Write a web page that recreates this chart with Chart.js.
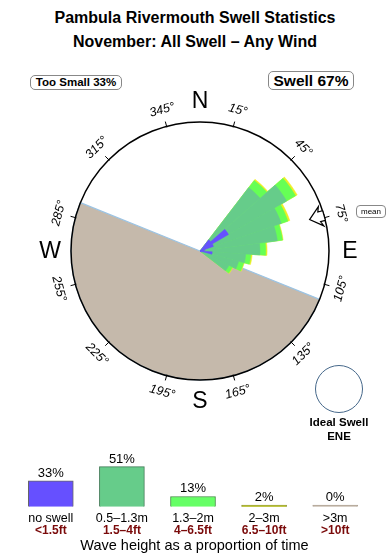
<!DOCTYPE html>
<html>
<head>
<meta charset="utf-8">
<script src="https://cdn.jsdelivr.net/npm/chart.js@4/dist/chart.umd.min.js"></script>
<style>
body { margin: 0; width: 390px; height: 560px; position: relative; background: #fff; overflow: hidden;
       font-family: "Liberation Sans", Arial, sans-serif; color: #000; }
canvas { position: absolute; left: 0; }
#rose { top: 0; }
#bars { top: 440px; }
.title { position: absolute; top: 6px; left: 0; width: 390px; text-align: center; font-weight: bold; font-size: 16px; line-height: 24px; }
.box { position: absolute; border: 1px solid #888; border-radius: 5px; text-align: center; white-space: nowrap; }
#small { left: 30px; top: 75px; width: 90px; height: 13px; font-size: 11.5px; font-weight: bold; line-height: 13px; }
#swell { left: 268px; top: 71px; width: 84px; height: 17px; font-size: 15.5px; font-weight: bold; line-height: 17px; }
#mean { left: 356px; top: 205px; width: 28px; height: 11px; font-size: 8px; line-height: 11px; border-radius: 4px; }
.ideal { position: absolute; left: 315px; top: 365px; width: 46px; height: 46px; border: 1px solid #46688a; border-radius: 50%; }
.idealtxt { position: absolute; left: 289px; top: 415px; width: 100px; text-align: center; font-weight: bold; font-size: 11.5px; line-height: 14px; }
</style>
</head>
<body>
<div class="title">Pambula Rivermouth Swell Statistics<br>November: All Swell – Any Wind</div>
<div class="box" id="small">Too Small 33%</div>
<div class="box" id="swell">Swell 67%</div>
<canvas id="rose" width="390" height="560"></canvas>
<div class="box" id="mean">mean</div>
<div class="ideal"></div>
<div class="idealtxt">Ideal Swell<br>ENE</div>
<canvas id="bars" width="390" height="120"></canvas>
<script>
// direction bins (32 sectors of 11.25 deg), labelled by their centre
const dirLabels = ['9.4','20.6','31.9','43.1','54.4','65.6','76.9','88.1','99.4','110.6','121.9','133.1',
  '144.4','155.6','166.9','178.1','189.4','200.6','211.9','223.1','234.4','245.6','256.9','268.1',
  '279.4','290.6','301.9','313.1','324.4','335.6','346.9','358.1'];
// share of time per sector (% units of the rose) for each wave height class
const noSwell = [0,0,0,2.2,5.1,2.2,0.8,0.6,1.9,0,0,0, 0,0,0,0,0,0,0,0,0,0,0,0, 0,0,0,0,0,0,0,0];
const h05to13 = [0,0,0,12.4,15.5,13.3,12.1,9.3,7.1,6.2,5.0,0, 0,0,0,0,0,0,0,0,0,0,0,0, 0,0,0,0,0,0,0,0];
const h13to2  = [0,0,0,1.4,1.6,1.1,0.8,0.9,0.8,0.8,0.6,0, 0,0,0,0,0,0,0,0,0,0,0,0, 0,0,0,0,0,0,0,0];
const h2to3   = [0,0,0,0.2,0.3,0.3,0.1,0.2,0.2,0.1,0.1,0, 0,0,0,0,0,0,0,0,0,0,0,0, 0,0,0,0,0,0,0,0];
const roseMax = 20;
// land sector: from 112 deg clockwise to 292 deg
const landFrom = 112, landTo = 292;
const meanDir = 74;
const degreeTicks = [15,45,75,105,135,165,195,225,255,285,315,345];
const cardinals = [['N',0],['E',90],['S',180],['W',270]];

// bottom legend
const heightClasses = ['no swell','0.5–1.3m','1.3–2m','2–3m','>3m'];
const heightFeet = ['<1.5ft','1.5–4ft','4–6.5ft','6.5–10ft','>10ft'];
const heightShare = [33,51,13,2,0];

const binStart = 3.75;
const cum1 = h05to13;
const cum2 = h05to13.map((v, i) => v + h13to2[i]);
const cum3 = cum2.map((v, i) => v + h2to3[i]);

const compass = {
  id: 'compass',
  afterDatasetsDraw(chart) {
    const sc = chart.scales.r;
    const cx = sc.xCenter, cy = sc.yCenter, R = sc.drawingArea;
    const ctx = chart.ctx;
    const rad = d => d * Math.PI / 180;
    const pt = (b, r, off) => {
      off = off || 0;
      return [cx + r * Math.sin(rad(b)) + off * Math.cos(rad(b)), cy - r * Math.cos(rad(b)) + off * Math.sin(rad(b))];
    };
    ctx.save();
    ctx.strokeStyle = '#000';
    ctx.lineWidth = 1.5;
    ctx.beginPath();
    ctx.arc(cx, cy, R, 0, Math.PI * 2);
    ctx.stroke();

    ctx.lineWidth = 1;
    ctx.fillStyle = '#000';
    ctx.font = 'italic 12.5px "Liberation Sans", Arial, sans-serif';
    ctx.textAlign = 'center';
    ctx.textBaseline = 'middle';
    degreeTicks.forEach(d => {
      const a = pt(d, R - 1), b = pt(d, R + 5);
      ctx.beginPath(); ctx.moveTo(a[0], a[1]); ctx.lineTo(b[0], b[1]); ctx.stroke();
      const p = pt(d, R + 17);
      let rot = (d > 90 && d < 270) ? d - 180 : d;
      ctx.save();
      ctx.translate(p[0], p[1]);
      ctx.rotate(rad(rot));
      ctx.fillText(d + '°', 0, 0);
      ctx.restore();
    });

    ctx.font = '23px "Liberation Sans", Arial, sans-serif';
    cardinals.forEach(c => {
      const p = pt(c[1], R + 21);
      ctx.fillText(c[0], p[0], p[1] + 1);
    });

    // mean direction arrow
    const shape = [[114,0],[126,-10],[124,-5],[R,-5],[R,5],[124,5],[126,10]];
    ctx.beginPath();
    shape.forEach((s, i) => {
      const p = pt(meanDir, s[0], s[1]);
      if (i === 0) ctx.moveTo(p[0], p[1]); else ctx.lineTo(p[0], p[1]);
    });
    ctx.closePath();
    ctx.fillStyle = '#fff';
    ctx.fill();
    ctx.lineWidth = 1.2;
    ctx.stroke();
    ctx.restore();
  }
};

const sameColor = c => ({ backgroundColor: c, borderColor: c, borderWidth: 0.5 });

new Chart(document.getElementById('rose'), {
  type: 'polarArea',
  data: {
    labels: dirLabels,
    datasets: [
      Object.assign({ label: 'no swell', data: noSwell }, sameColor('#6650ff')),
      Object.assign({ label: '0.5–1.3m', data: cum1 }, sameColor('#66cc8a')),
      Object.assign({ label: '1.3–2m', data: cum2 }, sameColor('#66ff55')),
      Object.assign({ label: '2–3m', data: cum3 }, sameColor('#eeee22')),
      {
        label: 'land',
        data: [0, roseMax, 0],
        angle: [landFrom - binStart, landTo - landFrom, 360 - (landTo - binStart)],
        backgroundColor: '#c5b9ab',
        borderColor: ['rgba(0,0,0,0)', '#9cc4e4', 'rgba(0,0,0,0)'],
        borderWidth: [0, 1.2, 0]
      }
    ]
  },
  options: {
    responsive: false,
    animation: false,
    events: [],
    layout: { padding: { left: 71, right: 61, top: 122, bottom: 180 } },
    plugins: { legend: { display: false }, tooltip: { enabled: false } },
    scales: {
      r: {
        min: 0, max: roseMax, startAngle: binStart,
        ticks: { display: false },
        grid: { display: false },
        angleLines: { display: false },
        pointLabels: { display: false }
      }
    }
  },
  plugins: [compass]
});

const barText = {
  id: 'barText',
  afterDatasetsDraw(chart) {
    const ctx = chart.ctx;
    const meta = chart.getDatasetMeta(0);
    const base = chart.scales.y.getPixelForValue(0);
    ctx.save();
    ctx.textAlign = 'center';
    ctx.textBaseline = 'alphabetic';
    meta.data.forEach((bar, i) => {
      ctx.fillStyle = '#000';
      ctx.font = '13px "Liberation Sans", Arial, sans-serif';
      ctx.fillText(heightShare[i] + '%', bar.x, Math.min(bar.y, base - 1) - 4);
      ctx.font = '12.5px "Liberation Sans", Arial, sans-serif';
      ctx.fillText(heightClasses[i], bar.x, base + 15);
      ctx.fillStyle = '#7a0a0a';
      ctx.font = 'bold 12px "Liberation Sans", Arial, sans-serif';
      ctx.fillText(heightFeet[i], bar.x, base + 27);
    });
    ctx.fillStyle = '#000';
    ctx.font = '14.5px "Liberation Sans", Arial, sans-serif';
    ctx.fillText('Wave height as a proportion of time', 194.5, base + 43);
    ctx.restore();
  }
};

new Chart(document.getElementById('bars'), {
  type: 'bar',
  data: {
    labels: heightClasses,
    datasets: [{
      data: heightShare,
      backgroundColor: ['#6650ff', '#66cc8a', '#66ff66', '#c8d040', '#c0b4a6'],
      borderColor: ['#666', '#3f7a55', '#3f8a3f', '#8a9030', '#b0a496'],
      borderWidth: 1,
      barThickness: 45,
      minBarLength: 1.5
    }]
  },
  options: {
    responsive: false,
    animation: false,
    events: [],
    layout: { padding: { left: 15.25, right: 19.25, top: 0, bottom: 53.3 } },
    plugins: { legend: { display: false }, tooltip: { enabled: false } },
    scales: {
      x: { display: false },
      y: { display: false, min: 0, max: 85 }
    }
  },
  plugins: [barText]
});
</script>
</body>
</html>
